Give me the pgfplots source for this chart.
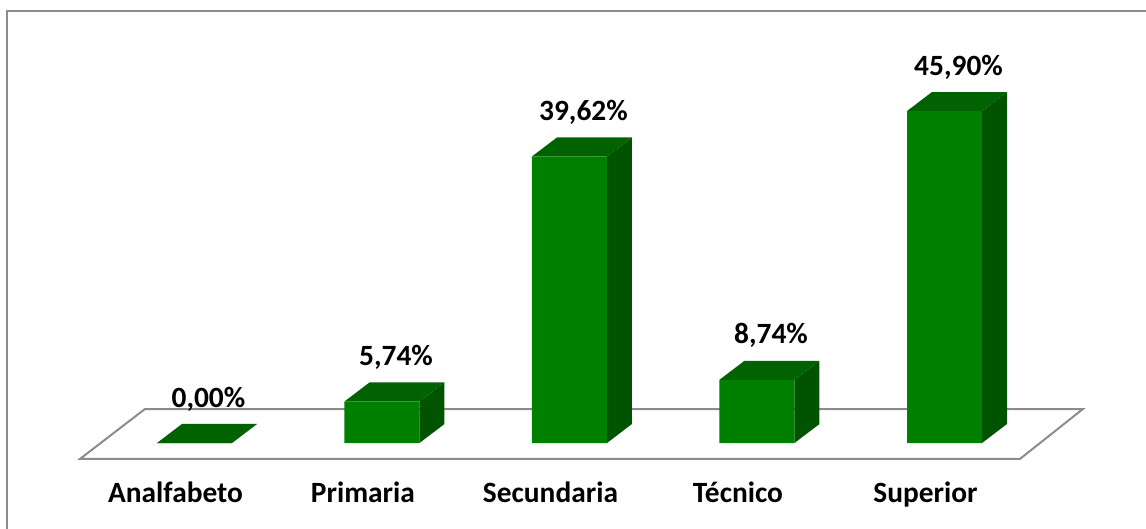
\documentclass[border=0pt]{standalone}
\usepackage{pgfplots}
\pgfplotsset{compat=1.18}
\usepackage{pgfplotstable}
\usepackage{fontspec}
\setmainfont{Carlito}

\definecolor{frontgreen}{RGB}{0,128,0}
\definecolor{topgreen}{RGB}{0,98,0}
\definecolor{sidegreen}{RGB}{0,84,0}
\definecolor{floorgray}{RGB}{140,140,140}

% nivel educativo (%)
\pgfplotstableread{
x y
0 0.00
1 5.74
2 39.62
3 8.74
4 45.90
}\datatable

\begin{document}
\begin{tikzpicture}
  \begin{axis}[
      scale only axis,
      width=573pt, height=264.5pt,
      xmin=-1.037, xmax=5.0746,
      ymin=-11.89, ymax=61.25,
      axis line style={draw=none},
      major tick length=0pt,
      ytick=\empty,
      xtick={0,1,2,3,4},
      xticklabels={Analfabeto, Primaria, Secundaria, Técnico, Superior},
      x tick label style={anchor=base, yshift=13pt, xshift=-9.5pt,
        font=\bfseries\fontsize{14.7}{17}\selectfont},
    ]
    % marco
    \draw[floorgray, line width=1pt] (rel axis cs:0.0061,0) -- (rel axis cs:0.0061,0.980) -- (rel axis cs:1,0.980);
    % piso
    \addplot[fill=white, draw=floorgray, line width=1pt]
      coordinates {(-0.611,-2.212) (4.402,-2.212) (4.738,4.70) (-0.264,4.70)} -- cycle;
    % caras lateral y superior
    \pgfplotsinvokeforeach{0,...,4}{
      \pgfplotstablegetelem{#1}{y}\of\datatable
      \pgfmathsetmacro\v{\pgfplotsretval}
      \pgfmathsetmacro\vt{\v+2.627}
      \pgfmathsetmacro\xa{#1-0.2}
      \pgfmathsetmacro\xb{#1+0.2}
      \pgfmathsetmacro\xc{#1+0.3333}
      \pgfmathsetmacro\xd{#1-0.0667}
      \addplot[fill=sidegreen, draw=none]
        coordinates {(\xb,0) (\xc,2.627) (\xc,\vt) (\xb,\v)} -- cycle;
      \addplot[fill=topgreen, draw=none]
        coordinates {(\xa,\v) (\xb,\v) (\xc,\vt) (\xd,\vt)} -- cycle;
    }
    % cara frontal
    \addplot[ybar, bar width=0.4, fill=frontgreen, draw=none,
      nodes near coords={\pgfmathprintnumber[fixed, fixed zerofill, precision=2, use comma, assume math mode=true]{\pgfplotspointmeta}\%},
      every node near coord/.append style={anchor=base, yshift=18pt, xshift=7pt,
        font=\bfseries\fontsize{14.7}{17}\selectfont, text=black},
    ] table[x=x, y=y] {\datatable};
  \end{axis}
  \pgfresetboundingbox
  \useasboundingbox (current axis.south west) rectangle (current axis.north east);
\end{tikzpicture}
\end{document}
